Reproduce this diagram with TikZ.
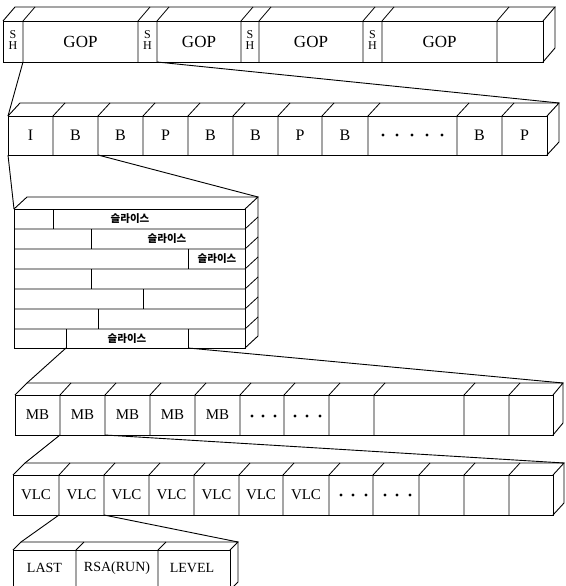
\documentclass[tikz,border=0pt]{standalone}
\usepackage{fontspec}
\setmainfont{Liberation Serif}
\newfontfamily\kor{Noto Sans CJK KR}

\begin{document}
\begin{tikzpicture}[
  x=1pt, y=-1pt,
  every node/.style={inner sep=1pt},
  box/.style={draw, line width=0.9pt},
  cut/.style={draw, line width=0.8pt},
  link/.style={draw, line width=0.9pt},
  big/.style={font=\fontsize{17}{17}\selectfont},
  mid/.style={font=\fontsize{16}{16}\selectfont},
  small/.style={font=\fontsize{15}{15}\selectfont},
  tiny/.style={font=\fontsize{14}{14}\selectfont},
  hdr/.style={align=center, font=\fontsize{12}{11}\selectfont},
  slice/.style={font=\kor\bfseries\fontsize{10.5}{10.5}\selectfont},
  dot/.style={fill=black}]

  \clip (0,0) rectangle (565,586);

  % sequence layer
  \draw[box] (3,21) rectangle (543,62);
  \draw[box] (3,21) -- (15,7) -- (555,7) -- (543,21);
  \draw[box] (555,7) -- (555,48) -- (543,62);
  \foreach \x in {23,138,157,241,259,363,382,497}
    \draw[cut] (\x,62) -- (\x,21) -- ++(12,-14);
  \coordinate (sq-l) at (23,62);
  \coordinate (sq-r) at (157,62);

  \node[hdr] (sh1) at (13,40)    {S\\H};
  \node[hdr] (sh2) at (147.5,40) {S\\H};
  \node[hdr] (sh3) at (250,40)   {S\\H};
  \node[hdr] (sh4) at (372.5,40) {S\\H};
  \node[big] (gop1) at (80.5,41.5) {GOP};
  \node[big] (gop2) at (199,41.5)  {GOP};
  \node[big] (gop3) at (311,41.5)  {GOP};
  \node[big] (gop4) at (439.5,41.5) {GOP};

  % picture layer
  \draw[box] (8,116) rectangle (547,155);
  \draw[box] (8,116) -- (20,103) -- (559,103) -- (547,116);
  \draw[box] (559,103) -- (559,142) -- (547,155);
  \foreach \x in {53,98,143,188,233,278,322,368,457,502}
    \draw[cut] (\x,155) -- (\x,116) -- ++(12,-13);
  \coordinate (pic-tl) at (8,116);
  \coordinate (pic-tr) at (559,103);
  \coordinate (pic-l) at (8,155);
  \coordinate (pic-r) at (98,155);

  \node[mid] (p1)  at (30.5,135.5)  {I};
  \node[mid] (p2)  at (75.5,135.5)  {B};
  \node[mid] (p3)  at (120.5,135.5) {B};
  \node[mid] (p4)  at (165.5,135.5) {P};
  \node[mid] (p5)  at (210.5,135.5) {B};
  \node[mid] (p6)  at (255.5,135.5) {B};
  \node[mid] (p7)  at (300,135.5)   {P};
  \node[mid] (p8)  at (345,135.5)   {B};
  \node[mid] (p9)  at (479.5,135.5) {B};
  \node[mid] (p10) at (524.5,135.5) {P};
  \foreach \x in {383,397,412,427,442}
    \fill[dot] (\x,135) circle (1.7pt);

  % slice layer
  \draw[box] (14,209) rectangle (245,348);
  \draw[box] (14,209) -- (27,197) -- (258,197) -- (245,209);
  \draw[box] (258,197) -- (258,336) -- (245,348);
  \foreach \y in {229,249,269,289,309,329}
    \draw[cut] (14,\y) -- (245,\y) -- ++(13,-12);
  \foreach \x/\a/\b in {53/209/229, 91/229/249, 188/249/269, 91/269/289,
                        143/289/309, 98/309/329, 66/329/348, 188/329/348}
    \draw[cut] (\x,\a) -- (\x,\b);
  \coordinate (sl-tl) at (14,209);
  \coordinate (sl-tr) at (258,197);
  \coordinate (sl-l) at (66,348);
  \coordinate (sl-r) at (188,348);

  \node[slice] (s1) at (130,218.5) {슬라이스};
  \node[slice] (s2) at (167,238.5) {슬라이스};
  \node[slice] (s3) at (217,259)   {슬라이스};
  \node[slice] (s4) at (127,338.5) {슬라이스};

  % macroblock layer
  \draw[box] (15,395) rectangle (553,435);
  \draw[box] (15,395) -- (27,383) -- (563,383) -- (553,395);
  \draw[box] (563,383) -- (563,423) -- (553,435);
  \foreach \x in {60,105,150,195,240,284,329,374,464,509}
    \draw[cut] (\x,435) -- (\x,395) -- ++(11,-12);
  \coordinate (mb-tl) at (27,383);
  \coordinate (mb-tr) at (563,383);
  \coordinate (mb-l) at (60,435);
  \coordinate (mb-r) at (105,435);

  \node[small] (m1) at (37.5,415)  {MB};
  \node[small] (m2) at (82.5,415)  {MB};
  \node[small] (m3) at (127.5,415) {MB};
  \node[small] (m4) at (172.5,415) {MB};
  \node[small] (m5) at (217.5,415) {MB};
  \foreach \x in {252,263,275,295,307,320}
    \fill[dot] (\x,416) circle (1.7pt);

  % block layer
  \draw[box] (13,475) rectangle (553,515);
  \draw[box] (13,475) -- (25,463) -- (564,463) -- (553,475);
  \draw[box] (564,463) -- (564,503) -- (553,515);
  \foreach \x in {59,104,149,194,239,283,329,373,419,464,509}
    \draw[cut] (\x,515) -- (\x,475) -- ++(11,-12);
  \coordinate (vl-tl) at (25,463);
  \coordinate (vl-tr) at (564,463);
  \coordinate (vl-l) at (59,515);
  \coordinate (vl-r) at (104,515);

  \node[small] (v1) at (36,495)    {VLC};
  \node[small] (v2) at (81.5,495)  {VLC};
  \node[small] (v3) at (126.5,495) {VLC};
  \node[small] (v4) at (171.5,495) {VLC};
  \node[small] (v5) at (216.5,495) {VLC};
  \node[small] (v6) at (261,495)   {VLC};
  \node[small] (v7) at (306,495)   {VLC};
  \foreach \x in {341,353,366,385,397,410}
    \fill[dot] (\x,495) circle (1.7pt);

  % code layer
  \draw[box] (13,550) rectangle (230,590);
  \draw[box] (13,550) -- (21,542) -- (238,542) -- (230,550);
  \draw[box] (238,542) -- (238,582) -- (230,590);
  \foreach \x in {76,158}
    \draw[cut] (\x,590) -- (\x,550) -- ++(8,-8);
  \coordinate (cd-tl) at (21,542);
  \coordinate (cd-tr) at (238,542);

  \node[tiny] (c1) at (44.5,568) {LAST};
  \node[tiny] (c2) at (117,568)  {RSA(RUN)};
  \node[tiny] (c3) at (192,568)  {LEVEL};

  % links between layers
  \draw[link] (sq-l) -- (pic-tl);
  \draw[link] (sq-r) -- (pic-tr);
  \draw[link] (pic-l) -- (sl-tl);
  \draw[link] (pic-r) -- (sl-tr);
  \draw[link] (sl-l) -- (mb-tl);
  \draw[link] (sl-r) -- (mb-tr);
  \draw[link] (mb-l) -- (vl-tl);
  \draw[link] (mb-r) -- (vl-tr);
  \draw[link] (vl-l) -- (cd-tl);
  \draw[link] (vl-r) -- (cd-tr);
\end{tikzpicture}
\end{document}
